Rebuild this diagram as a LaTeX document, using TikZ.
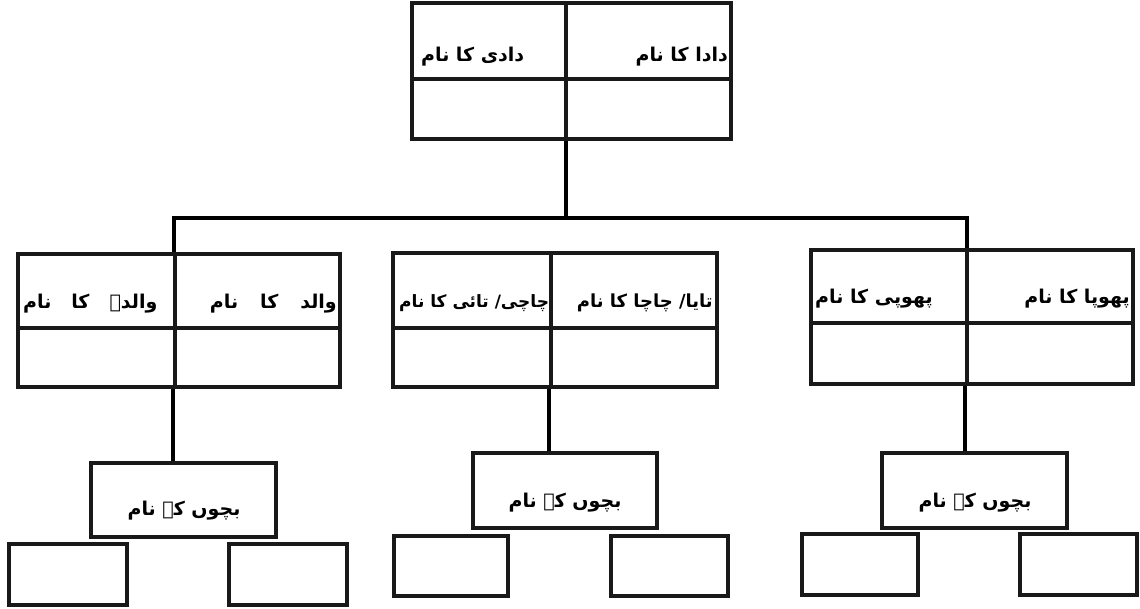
\documentclass[tikz,border=0pt]{standalone}
\usepackage{fontspec}
\newfontfamily\urdu[Script=Arabic]{DejaVu Sans}
\TeXXeTstate=1
\begin{document}
\begin{tikzpicture}[x=1pt,y=-1pt,
  cell/.style={draw=black!90, line width=3.6pt, inner sep=0pt, minimum width=#1},
  lbl/.style={font=\urdu\bfseries\fontsize{19}{22}\selectfont, inner sep=0pt},
  lbls/.style={font=\urdu\bfseries\fontsize{17}{20}\selectfont, inner sep=0pt},
  lblm/.style={font=\urdu\bfseries\fontsize{18}{21}\selectfont, inner sep=0pt},
  link/.style={draw=black, line width=4pt}]
\useasboundingbox (0,0) rectangle (1140,609);
% grandparents
\node[cell=154pt, minimum height=76pt] (gTL) at (489,41) {};
\node[cell=165pt, minimum height=76pt] (gTR) at (648.5,41) {};
\node[cell=154pt, minimum height=60pt] (gBL) at (489,109) {};
\node[cell=165pt, minimum height=60pt] (gBR) at (648.5,109) {};
\node[lbl, anchor=base east] (tdada) at (728,62) {\beginR دادا کا نام\endR};
\node[lbl, anchor=base west] (tdadi) at (421,62) {\beginR دادی کا نام\endR};
% left family
\node[cell=157pt, minimum height=74pt] (lTL) at (96.5,291) {};
\node[cell=165pt, minimum height=74pt] (lTR) at (257.5,291) {};
\node[cell=157pt, minimum height=59pt] (lBL) at (96.5,357.5) {};
\node[cell=165pt, minimum height=59pt] (lBR) at (257.5,357.5) {};
\node[lbl, anchor=base east] (twalid) at (337,309) {\beginR والد\hspace{22pt}کا\hspace{22pt}نام\endR};
\node[lbl, anchor=base west] (twalida) at (23,309) {\beginR والدہ\hspace{20pt}کا\hspace{20pt}نام\endR};
% middle family
\node[cell=158pt, minimum height=75pt] (mTL) at (472,290.5) {};
\node[cell=166pt, minimum height=75pt] (mTR) at (634,290.5) {};
\node[cell=158pt, minimum height=59pt] (mBL) at (472,357.5) {};
\node[cell=166pt, minimum height=59pt] (mBR) at (634,357.5) {};
\node[lblm, anchor=base east] (ttaya) at (713,308) {\beginR تایا/ چاچا کا نام\endR};
\node[lbls, anchor=base west] (tchachi) at (399,308) {\beginR چاچی/ تائی کا نام\endR};
% right family
\node[cell=156pt, minimum height=73pt] (rTL) at (889,286.5) {};
\node[cell=166pt, minimum height=73pt] (rTR) at (1050,286.5) {};
\node[cell=156pt, minimum height=61pt] (rBL) at (889,353.5) {};
\node[cell=166pt, minimum height=61pt] (rBR) at (1050,353.5) {};
\node[lbl, anchor=base east] (tphupa) at (1130,304) {\beginR پھوپا کا نام\endR};
\node[lbl, anchor=base west] (tphupi) at (815,304) {\beginR پھوپی کا نام\endR};
% children
\node[cell=185pt, minimum height=74pt] (lkids) at (183.5,500) {};
\node[lbl] (tlk) at (184,511) {\beginR بچوں کے نام\endR};
\node[cell=118pt, minimum height=61pt] (lk1) at (68,574.5) {};
\node[cell=118pt, minimum height=61pt] (lk2) at (288,574.5) {};
\node[cell=184pt, minimum height=75pt] (mkids) at (565,490.5) {};
\node[lbl] (tmk) at (565,503) {\beginR بچوں کے نام\endR};
\node[cell=114pt, minimum height=60pt] (mk1) at (451,566) {};
\node[cell=117pt, minimum height=60pt] (mk2) at (669.5,566) {};
\node[cell=185pt, minimum height=75pt] (rkids) at (974.5,490.5) {};
\node[lbl] (trk) at (975,503) {\beginR بچوں کے نام\endR};
\node[cell=116pt, minimum height=61pt] (rk1) at (860,564.5) {};
\node[cell=117pt, minimum height=61pt] (rk2) at (1078.5,564.5) {};
% connectors
\coordinate (hm) at (566,218);
\coordinate (hl) at (174,218);
\coordinate (hr) at (967,218);
\coordinate (hl0) at (172,218);
\coordinate (hr0) at (969,218);
\draw[link] (hm |- gBL.south) -- (hm);
\draw[link] (hl0) -- (hr0);
\draw[link] (hl) -- (hl |- lTR.north);
\draw[link] (hr) -- (hr |- rTR.north);
\draw[link] (lBR.south west) -- (lBR.south west |- lkids.north);
\draw[link] (mBR.south west) -- (mBR.south west |- mkids.north);
\draw[link] (rBR.south west) -- (rBR.south west |- rkids.north);
\end{tikzpicture}
\end{document}
